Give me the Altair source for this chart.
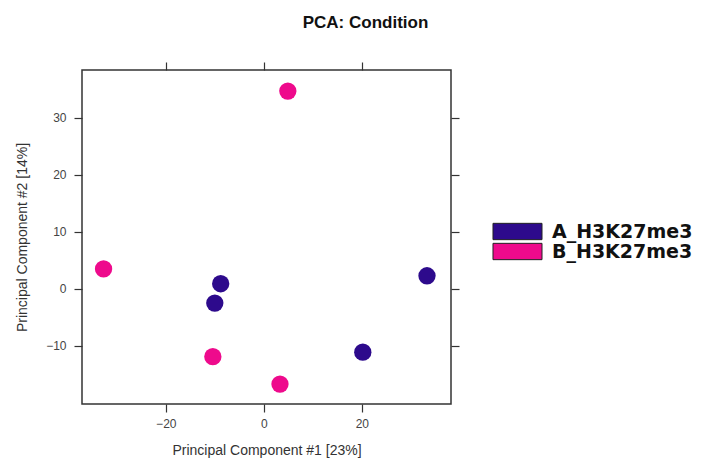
import altair as alt
import pandas as pd

groups = ["B_H3K27me3", "B_H3K27me3", "A_H3K27me3", "A_H3K27me3",
          "A_H3K27me3", "A_H3K27me3", "B_H3K27me3", "B_H3K27me3"]
pc1 = [4.9, -32.7, -8.8, -10.0, 33.3, 20.2, -10.4, 3.3]
pc2 = [34.7, 3.5, 0.9, -2.5, 2.3, -11.1, -11.9, -16.7]

x_ticks = [-20, 0, 20]
y_ticks = [-10, 0, 10, 20, 30]
categories = ["A_H3K27me3", "B_H3K27me3"]
colors = ["#2d0a8c", "#ee0a8c"]

df = pd.DataFrame({"group": groups, "pc1": pc1, "pc2": pc2})

FONT = "Liberation Sans"
x_scale = alt.Scale(domain=[-37.1, 38.2], nice=False, zero=False)
y_scale = alt.Scale(domain=[-20.2, 38.4], nice=False, zero=False)

axis_common = dict(domain=False, grid=False, tickColor="#333", tickSize=8,
                   tickWidth=1.2, labelFont=FONT, labelFontSize=12,
                   labelColor="#444", titleFont=FONT, titleFontSize=14,
                   titleColor="#333", titleFontWeight="normal")

points = alt.Chart(df).mark_circle(size=300, opacity=1).encode(
    x=alt.X("pc1:Q", scale=x_scale,
            axis=alt.Axis(values=x_ticks, title="Principal Component #1 [23%]",
                          orient="bottom", titlePadding=14, labelPadding=6,
                          **axis_common)),
    y=alt.Y("pc2:Q", scale=y_scale,
            axis=alt.Axis(values=y_ticks, title="Principal Component #2 [14%]",
                          orient="left", titlePadding=16, labelPadding=8,
                          **axis_common)),
    color=alt.Color("group:N", scale=alt.Scale(domain=categories, range=colors),
                    legend=alt.Legend(
                        title=None, orient="none", legendX=426, legendY=152,
                        symbolType="M-3,-1L3,-1L3,1L-3,1Z",
                        symbolSize=267, symbolStrokeColor="#222",
                        symbolStrokeWidth=1, symbolOpacity=1,
                        labelFont="DejaVu Sans", labelFontSize=19,
                        labelFontWeight="bold",
                        labelColor="#111", rowPadding=-7, labelOffset=25)),
)

frame_axes = alt.Chart(df).mark_circle(size=300, opacity=0).encode(
    x=alt.X("pc1:Q", scale=x_scale,
            axis=alt.Axis(values=x_ticks, orient="top", labels=False, title=None,
                          domain=False, grid=False, tickColor="#333", tickSize=8,
                          tickWidth=1.2)),
    y=alt.Y("pc2:Q", scale=y_scale,
            axis=alt.Axis(values=y_ticks, orient="right", labels=False, title=None,
                          domain=False, grid=False, tickColor="#333", tickSize=8,
                          tickWidth=1.2)),
)

chart = alt.layer(points, frame_axes).resolve_axis(
    x="independent", y="independent"
).properties(
    width=369, height=334,
    autosize=alt.AutoSizeParams(type="none"),
    padding={"left": 82, "top": 70, "right": 253, "bottom": 55},
    title=alt.TitleParams("PCA: Condition", font=FONT, fontSize=17,
                          fontWeight="bold", color="#111", anchor="middle",
                          dx=99, offset=29),
).configure(background="white").configure_view(stroke="#333", strokeWidth=1.5)

chart.save("out.html", embed_options={"renderer": "svg", "actions": False})
